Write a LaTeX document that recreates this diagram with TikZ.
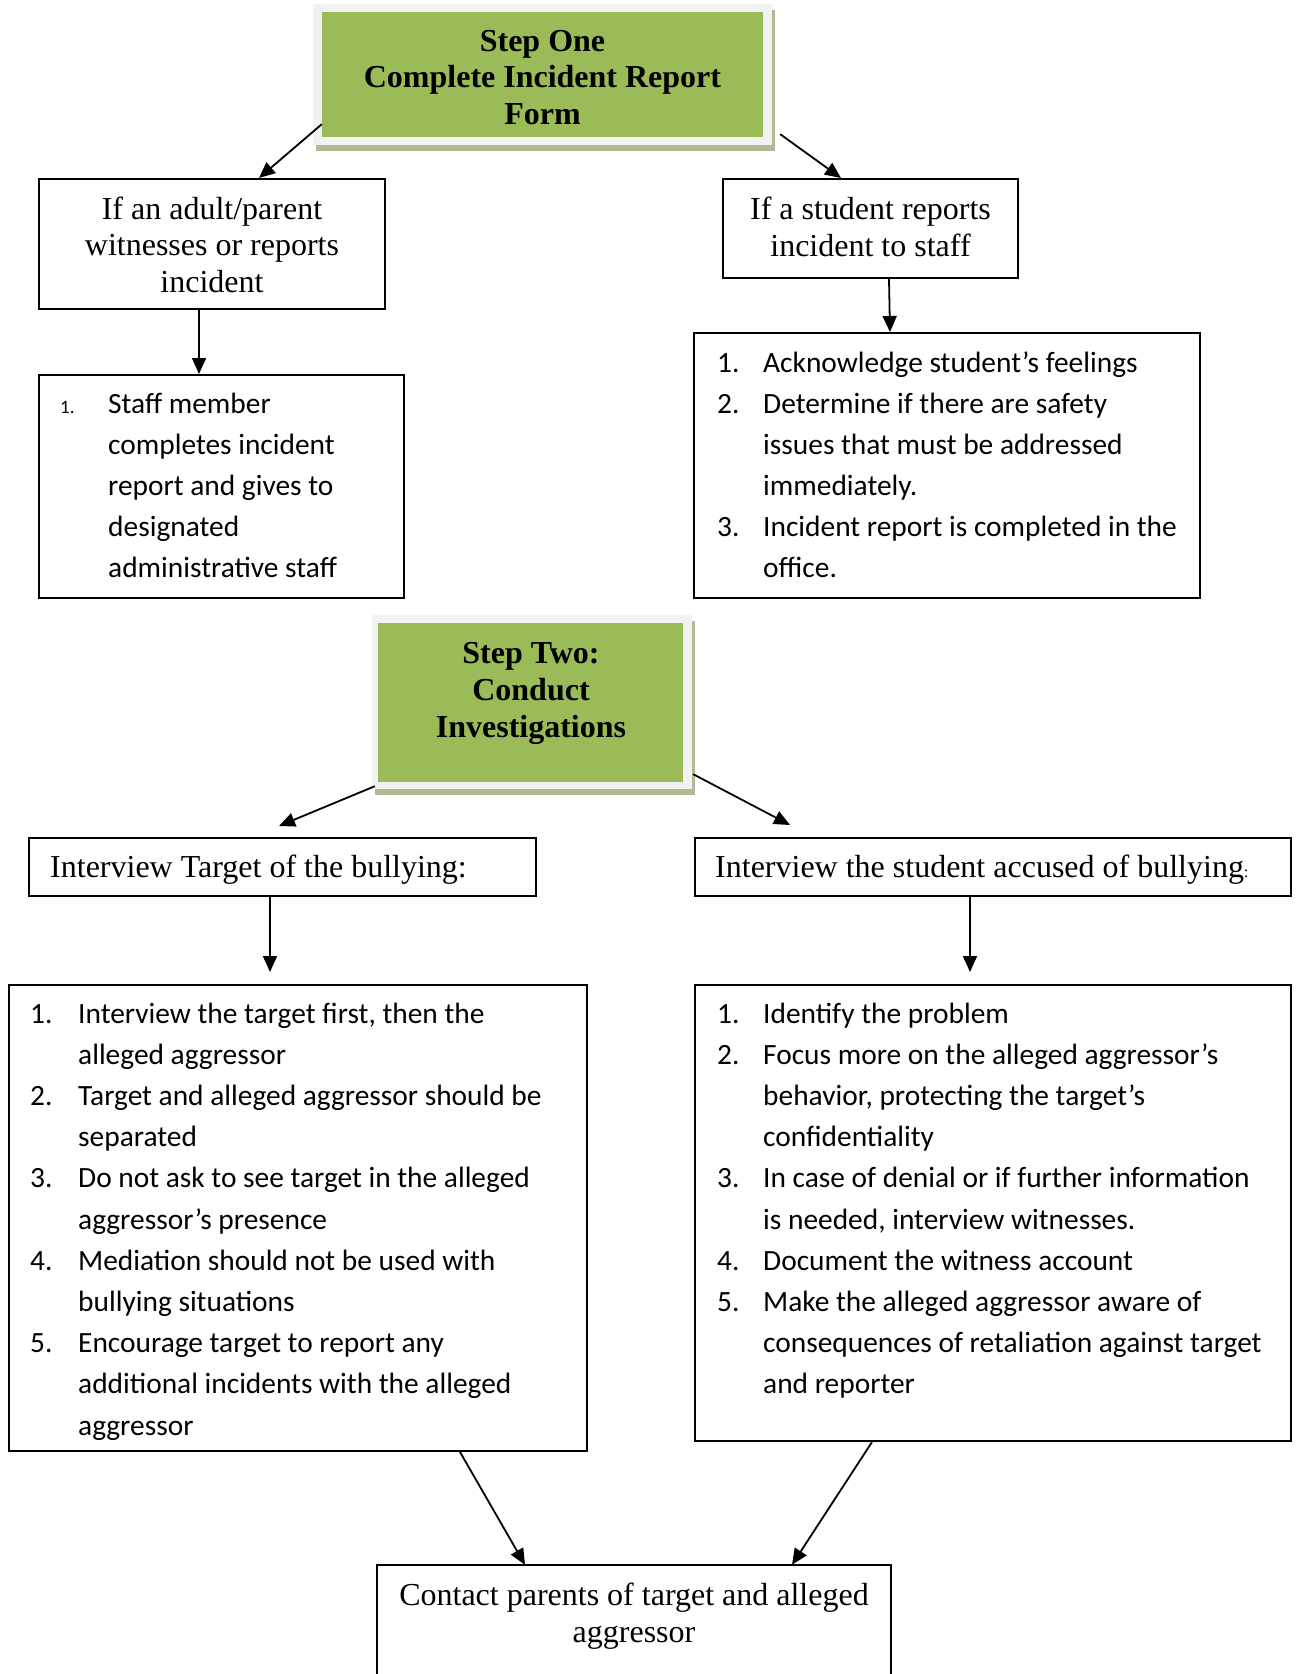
\documentclass[tikz,border=0pt]{standalone}
\usepackage{fontspec}
\setmainfont{Liberation Serif}
\newfontfamily\serifF{Liberation Serif}
\newfontfamily\calibF{Carlito}
\usetikzlibrary{arrows.meta}
\definecolor{stepgreen}{RGB}{155,187,89}
\definecolor{framegray}{RGB}{242,242,242}
\definecolor{shadowol}{RGB}{176,186,150}
\newcommand\itmA[1]{\makebox[46pt][l]{#1}}
\newcommand\contA{\hspace*{46pt}}
\newcommand\itmC[1]{\makebox[48pt][l]{#1}}
\newcommand\contC{\hspace*{48pt}}
\begin{document}
\begin{tikzpicture}[x=1pt,y=-1pt,
  boxnode/.style={draw, line width=2pt, inner sep=0pt},
  shadownode/.style={fill=shadowol, inner sep=0pt},
  framenode/.style={fill=framegray, inner sep=0pt},
  greennode/.style={fill=stepgreen, inner sep=0pt},
  plainnode/.style={inner sep=0pt},
  arr/.style={line width=1.8pt, -{Triangle[length=16pt,width=14pt]}}]
\useasboundingbox (0,0) rectangle (1298,1674);

% Step One
\node[shadownode, minimum width=459pt, minimum height=141pt] (g1s) at (545.5,80.5) {};
\node[framenode, minimum width=459pt, minimum height=141pt] (g1f) at (542.5,74.5) {};
\node[greennode, minimum width=441pt, minimum height=125pt] (g1) at (542.5,74.5) {};
\node[plainnode, anchor=base] (g1t) at (542.5,51) {\parbox[t]{430pt}{\centering\serifF\bfseries\fontsize{32}{36.5}\selectfont Step One\\Complete Incident Report\\Form}};

% Step Two
\node[shadownode, minimum width=320pt, minimum height=174pt] (g2s) at (535,708) {};
\node[framenode, minimum width=320pt, minimum height=174pt] (g2f) at (532,702) {};
\node[greennode, minimum width=305pt, minimum height=159pt] (g2) at (530.5,702.5) {};
\node[plainnode, anchor=base] (g2t) at (531,663) {\parbox[t]{300pt}{\centering\serifF\bfseries\fontsize{32}{37}\selectfont Step Two:\\Conduct\\Investigations}};

% Boxes
\node[boxnode, minimum width=346pt, minimum height=130pt] (A) at (212,244) {};
\node[plainnode, anchor=base] (At) at (212,219) {\parbox[t]{340pt}{\centering\serifF\fontsize{32}{36.5}\selectfont If an adult/parent\\witnesses or reports\\incident}};

\node[boxnode, minimum width=365pt, minimum height=223pt] (A1) at (221.5,486.5) {};
\node[plainnode, anchor=base west] (A1t) at (60,413) {\parbox[t]{340pt}{\raggedright\calibF\fontsize{29.4}{41}\selectfont
\makebox[48pt][l]{\fontsize{19}{19}\selectfont 1.}Staff member\\
\hspace*{48pt}completes incident\\
\hspace*{48pt}report and gives to\\
\hspace*{48pt}designated\\
\hspace*{48pt}administrative staff}};

\node[boxnode, minimum width=295pt, minimum height=99pt] (B) at (870.5,228.5) {};
\node[plainnode, anchor=base] (Bt) at (870.5,219) {\parbox[t]{290pt}{\centering\serifF\fontsize{32}{37.5}\selectfont If a student reports\\incident to staff}};

\node[boxnode, minimum width=506pt, minimum height=265pt] (B1) at (947,465.5) {};
\node[plainnode, anchor=base west] (B1t) at (717,372) {\parbox[t]{480pt}{\raggedright\calibF\fontsize{29.4}{41}\selectfont
\itmA{1.}Acknowledge student’s feelings\\
\itmA{2.}Determine if there are safety\\
\contA issues that must be addressed\\
\contA immediately.\\
\itmA{3.}Incident report is completed in the\\
\contA office.}};

\node[boxnode, minimum width=507pt, minimum height=58pt] (C) at (282.5,867) {};
\node[plainnode, anchor=base west] (Ct) at (50,877) {\serifF\fontsize{32}{37}\selectfont Interview Target of the bullying:};

\node[boxnode, minimum width=596pt, minimum height=58pt] (D) at (993,867) {};
\node[plainnode, anchor=base west] (Dt) at (715,877) {\serifF\fontsize{32}{37}\selectfont Interview the student accused of bullying{\fontsize{16}{16}\selectfont :}};

\node[boxnode, minimum width=578pt, minimum height=466pt] (C1) at (298,1218) {};
\node[plainnode, anchor=base west] (C1t) at (30,1023) {\parbox[t]{550pt}{\raggedright\calibF\fontsize{29.4}{41.2}\selectfont
\itmC{1.}Interview the target first, then the\\
\contC alleged aggressor\\
\itmC{2.}Target and alleged aggressor should be\\
\contC separated\\
\itmC{3.}Do not ask to see target in the alleged\\
\contC aggressor’s presence\\
\itmC{4.}Mediation should not be used with\\
\contC bullying situations\\
\itmC{5.}Encourage target to report any\\
\contC additional incidents with the alleged\\
\contC aggressor}};

\node[boxnode, minimum width=596pt, minimum height=456pt] (D1) at (993,1213) {};
\node[plainnode, anchor=base west] (D1t) at (717,1023) {\parbox[t]{570pt}{\raggedright\calibF\fontsize{29.4}{41.2}\selectfont
\itmA{1.}Identify the problem\\
\itmA{2.}Focus more on the alleged aggressor’s\\
\contA behavior, protecting the target’s\\
\contA confidentiality\\
\itmA{3.}In case of denial or if further information\\
\contA is needed, interview witnesses.\\
\itmA{4.}Document the witness account\\
\itmA{5.}Make the alleged aggressor aware of\\
\contA consequences of retaliation against target\\
\contA and reporter}};

\node[plainnode, minimum width=514pt, minimum height=109pt] (E) at (634,1619.5) {};
\draw[line width=2pt] (E.south west) -- (E.north west) -- (E.north east) -- (E.south east);
\node[plainnode, anchor=base] (Et) at (634,1605) {\parbox[t]{500pt}{\centering\serifF\fontsize{32}{37}\selectfont Contact parents of target and alleged\\aggressor}};

% Connectors
\draw[arr] ([yshift=13pt]g1.south west) -- ([xshift=47pt]A.north);
\draw[arr] ([xshift=8pt,yshift=11pt]g1f.south east) -- ([xshift=-29.5pt]B.north);
\draw[arr] ([xshift=-13pt]A.south) -- ([xshift=-22.5pt]A1.north);
\draw[arr] ([xshift=18.5pt]B.south) -- ([xshift=-57pt]B1.north);
\coordinate (cC) at ([xshift=-3.5pt,yshift=11pt]C.north);
\coordinate (cD) at ([xshift=-203pt,yshift=12pt]D.north);
\coordinate (cC1) at ([xshift=-28pt,yshift=12pt]C1.north);
\coordinate (cD1) at ([xshift=-23pt,yshift=12pt]D1.north);
\draw[arr] ([xshift=3pt,yshift=3pt]g2f.south west) -- (cC);
\draw[arr] ([xshift=1pt,yshift=15pt]g2f.south east) -- (cD);
\draw[arr] ([xshift=-12.5pt]C.south) -- (cC1);
\draw[arr] ([xshift=-23pt]D.south) -- (cD1);
\draw[arr] ([xshift=162pt]C1.south) -- ([xshift=-109pt]E.north);
\draw[arr] ([xshift=-121pt]D1.south) -- ([xshift=158pt]E.north);
\end{tikzpicture}
\end{document}
